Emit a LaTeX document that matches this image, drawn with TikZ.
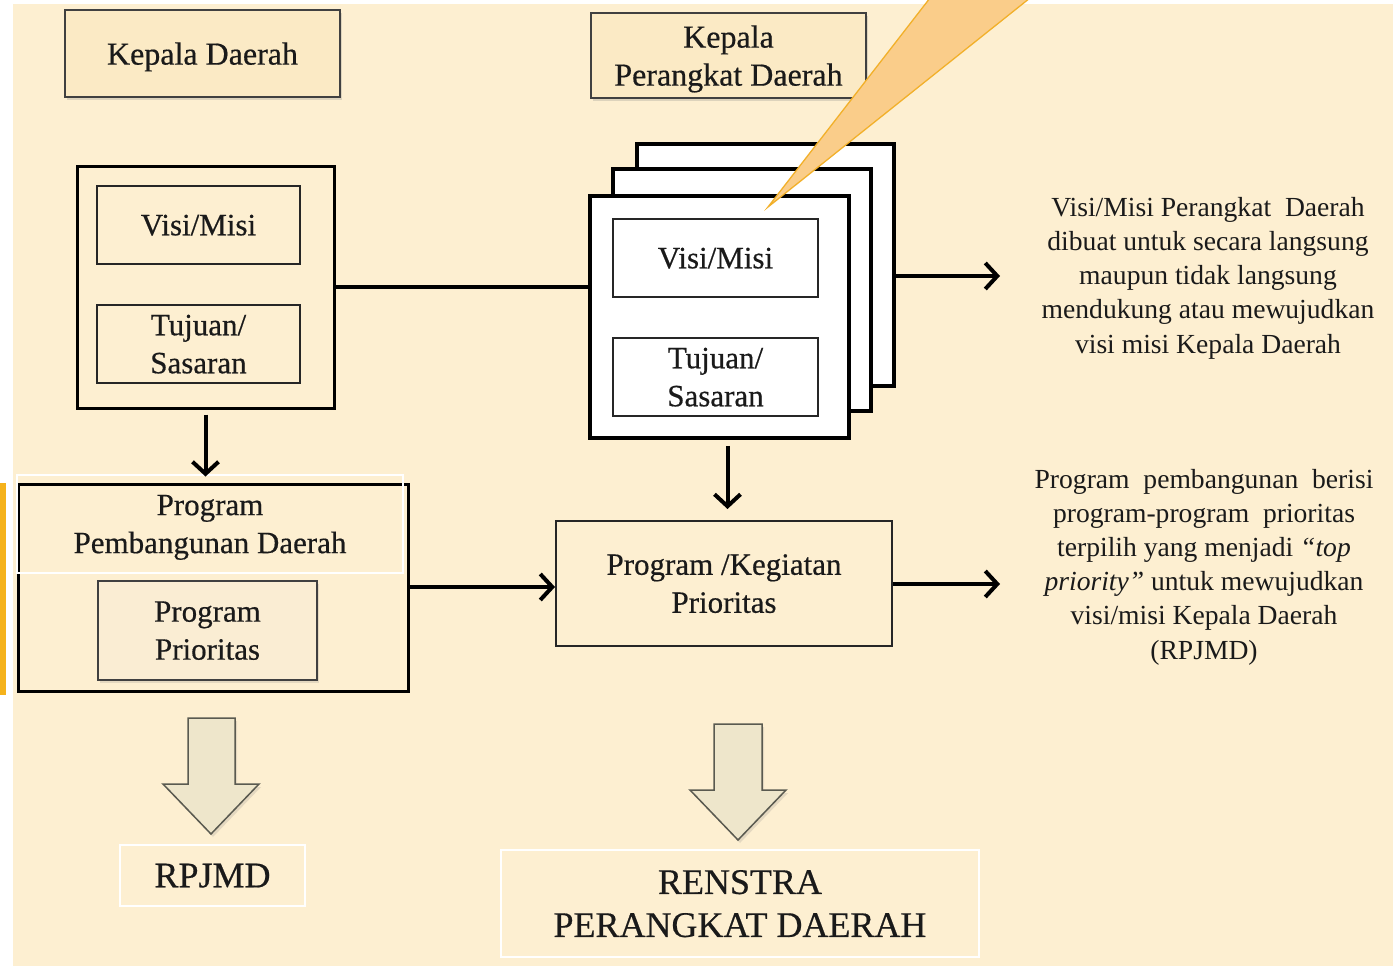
\documentclass[tikz,border=0pt]{standalone}
\usepackage{fontspec}
\setmainfont{Liberation Serif}[FakeBold=0.5]
\newfontfamily\sideserif{Liberation Serif}
\usetikzlibrary{arrows.meta,shadows,calc}
\definecolor{bg}{HTML}{FDEFD1}
\definecolor{kdfill}{HTML}{FBEAC5}
\definecolor{ppfill}{HTML}{FAEDD3}
\definecolor{txt}{HTML}{1A1A1A}
\definecolor{calfill}{HTML}{FACD8A}
\definecolor{caldraw}{HTML}{F2B02A}
\definecolor{barcol}{HTML}{F5B21B}
\definecolor{bafill}{HTML}{EEE6CB}
\definecolor{badraw}{HTML}{5A5A50}
\tikzset{
  boxfont/.style={font=\fontsize{31}{38}\selectfont, text=txt, text depth=0pt},
  headfont/.style={font=\fontsize{32}{38}\selectfont, text=txt, text depth=0pt},
  sidefont/.style={font=\sideserif\fontsize{27.6}{34.2}\selectfont, text=txt},
  bigfont/.style={font=\fontsize{36}{43}\selectfont, text=txt, text depth=0pt},
  headbox/.style={draw=black!75, line width=2pt, fill=kdfill, align=center, inner sep=0pt, headfont,
     drop shadow={shadow xshift=2pt, shadow yshift=-3pt, opacity=.25}},
  outerbox/.style={draw=black, line width=3pt, fill=bg, inner sep=0pt},
  innerbox/.style={draw=black!85, line width=2pt, fill=bg, align=center, inner sep=0pt, boxfont},
  pagebox/.style={draw=black, line width=3.5pt, fill=white, inner sep=0pt},
  pinner/.style={draw=black!85, line width=2pt, fill=white, align=center, inner sep=0pt, boxfont},
  ghost/.style={draw=white, line width=1.2pt, align=center, inner sep=0pt},
  arr/.style={line width=4pt, -{Straight Barb[length=12pt,width=26pt,line width=4pt]}},
  plainline/.style={line width=4pt},
  blockarrow/.style={fill=bafill, draw=badraw, line width=1.5pt, line join=miter,
     drop shadow={shadow xshift=2pt, shadow yshift=-3pt, opacity=.2}},
}
\begin{document}
\begin{tikzpicture}[x=1pt,y=-1pt]
\useasboundingbox (0,0) rectangle (1393,966);
\fill[white] (0,0) rectangle (1393,966);
\fill[bg] (13,4) rectangle (1393,966);
\fill[barcol] (0,483) rectangle (6,695);

% header boxes
\node[headbox, minimum width=275pt, minimum height=87pt] (kd) at (202.5,53.5) {Kepala Daerah};
\node[headbox, minimum width=275pt, minimum height=85pt] (kpd) at (728.5,55.5) {Kepala\\Perangkat Daerah};

% left visi/misi block
\node[outerbox, minimum width=257pt, minimum height=242pt] (lbig) at (205.5,287) {};
\node[innerbox, minimum width=203pt, minimum height=78pt] (lvm) at (198.5,225) {Visi/Misi};
\node[innerbox, minimum width=203pt, minimum height=78pt] (lts) at (198.5,344) {Tujuan/\\Sasaran};

% stacked pages
\node[pagebox, minimum width=257pt, minimum height=242pt] (pg3) at (765.5,265) {};
\node[pagebox, minimum width=258pt, minimum height=242pt] (pg2) at (742,290) {};
\node[pagebox, minimum width=259pt, minimum height=242pt] (pg1) at (719.5,317) {};
\node[pinner, minimum width=205pt, minimum height=78pt] (rvm) at (715.5,258) {Visi/Misi};
\node[pinner, minimum width=205pt, minimum height=78pt] (rts) at (715.5,377) {Tujuan/\\Sasaran};

% program pembangunan daerah
\node[outerbox, minimum width=390pt, minimum height=207pt] (ppd) at (213,587.5) {};
\node[ghost, boxfont, minimum width=386pt, minimum height=98pt] (ppdt) at (210,524) {Program\\Pembangunan Daerah};
\node[innerbox, fill=ppfill, draw=black!75, minimum width=219pt, minimum height=99pt,
      drop shadow={shadow xshift=2pt, shadow yshift=-3pt, opacity=.2}] (pp) at (207.5,630.5) {Program\\Prioritas};

% program / kegiatan prioritas
\node[draw=black!85, line width=2pt, fill=bg, align=center, inner sep=0pt, boxfont,
      minimum width=336pt, minimum height=125pt] (pkp) at (724,583.5) {Program /Kegiatan\\Prioritas};

% side texts
\node[sidefont, align=center] (t1) at (1208,278) {Visi/Misi Perangkat\ \ Daerah\\dibuat untuk secara langsung\\maupun tidak langsung\\mendukung atau mewujudkan\\visi misi Kepala Daerah};
\node[sidefont, align=center] (t2) at (1204,567) {Program\ \ pembangunan\ \ berisi\\program-program\ \ prioritas\\terpilih yang menjadi \textit{“top}\\\textit{priority”} untuk mewujudkan\\visi/misi Kepala Daerah\\(RPJMD)};

% output boxes
\node[ghost, bigfont, minimum width=185pt, minimum height=61pt] (rpjmd) at (212.5,875.5) {RPJMD};
\node[ghost, bigfont, minimum width=478pt, minimum height=107pt, align=center] (renstra) at (740,903.5) {RENSTRA\\PERANGKAT DAERAH};

% connectors
\coordinate (e1) at (1000,276);
\coordinate (e2) at (1000,584);
\draw[plainline] (lbig.east) -- (lbig.east -| pg1.west);
\draw[arr] (pg3.east |- e1) -- (e1);
\draw[arr] ([yshift=-5pt]lbig.south) -- ([yshift=6pt]lbig.south |- ppd.north);
\draw[arr] ([xshift=8pt,yshift=-6pt]pg1.south) -- ([xshift=8pt,yshift=11pt]pg1.south |- pkp.north);
\draw[arr] (ppd.east |- 0,587) -- (pkp.west |- 0,587);
\draw[arr] (pkp.east |- e2) -- (e2);

% block arrows
\draw[blockarrow] (188,718) -- (235,718) -- (235,784) -- (259,784) -- (211,834) -- (163,784) -- (188,784) -- cycle;
\draw[blockarrow] (714,724) -- (762,724) -- (762,790) -- (786,790) -- (738,840) -- (690,790) -- (714,790) -- cycle;

% callout
\coordinate (apex) at (768,207);
\filldraw[fill=calfill, draw=caldraw, line width=1.3pt] (930,-2) -- (apex) -- (1030,-2) -- cycle;
\end{tikzpicture}
\end{document}
